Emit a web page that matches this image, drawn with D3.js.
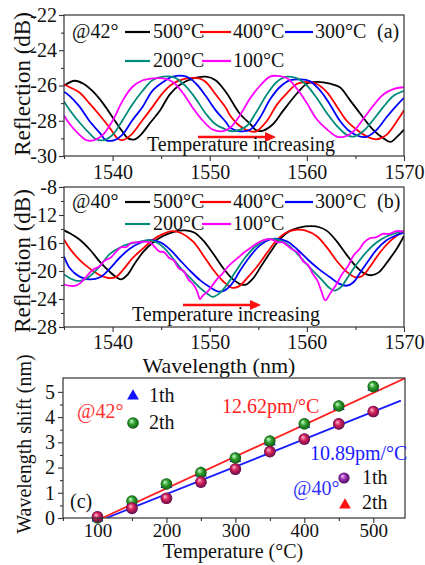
<!DOCTYPE html>
<html><head><meta charset="utf-8">
<script src="https://cdn.jsdelivr.net/npm/d3@7"></script>
<style>
body{margin:0;background:#fff}
svg{display:block}
</style>
</head><body>
<svg id="chart" width="425" height="565" font-family="Liberation Serif, Times New Roman, serif"></svg>
<script>
// ---------------- DATA ----------------
const seriesNames = ["500°C","400°C","300°C","200°C","100°C"];
const seriesColors = ["#000000","#ff0000","#0000ff","#008a7a","#ff00ff"];

// Panel (a) @42°  [wavelength nm, reflection dB]
const a500 = [[1535,-26.0],[1536.1,-25.73],[1537,-25.9],[1538,-26.35],[1539,-27.0],[1540,-27.8],[1541,-28.6],[1541.6,-29.0],[1542.3,-29.05],[1542.9,-28.8],[1543.9,-28.1],[1544.9,-27.4],[1545.9,-26.5],[1546.9,-25.97],[1548.3,-25.6],[1549.6,-25.5],[1550.6,-25.7],[1551.7,-26.4],[1552.5,-27.1],[1553.1,-27.6],[1554.2,-28.2],[1554.8,-28.55],[1555.5,-28.56],[1556.5,-28.2],[1557.6,-27.4],[1559,-26.44],[1560,-25.9],[1561,-25.8],[1562.4,-25.9],[1563.4,-26.1],[1564.4,-26.8],[1565.5,-27.6],[1566.8,-28.5],[1567.9,-29.0],[1568.6,-29.2],[1569.3,-28.9],[1570,-28.5]];
const a400 = [[1535,-25.95],[1535.6,-26.1],[1536.6,-26.4],[1537.6,-27.0],[1538.7,-27.7],[1539.7,-28.4],[1540.5,-29.0],[1541.0,-29.1],[1541.9,-28.8],[1542.9,-28.1],[1544.0,-27.3],[1545.2,-26.4],[1546.2,-25.9],[1547.6,-25.6],[1548.9,-25.6],[1549.6,-25.8],[1550.6,-26.5],[1551.7,-27.3],[1552.1,-27.7],[1553.1,-28.3],[1554.2,-28.6],[1554.8,-28.6],[1555.9,-28.0],[1556.9,-27.1],[1558,-26.4],[1559,-25.9],[1560,-25.8],[1561,-25.9],[1562.1,-26.4],[1563.1,-27.2],[1564.1,-28.0],[1565.1,-28.5],[1566.2,-28.9],[1567.2,-29.05],[1568.2,-28.8],[1569.3,-28.0],[1570,-27.4]];
const a300 = [[1535,-26.35],[1535.6,-26.6],[1536.6,-27.2],[1537.6,-28.0],[1538.7,-28.7],[1539.3,-29.1],[1540.2,-29.1],[1541,-28.8],[1542,-28.0],[1543.1,-27.2],[1544.1,-26.3],[1545.2,-25.8],[1546.2,-25.5],[1547.6,-25.5],[1548.6,-25.9],[1549.6,-26.6],[1550.6,-27.4],[1551.7,-28.1],[1552.1,-28.4],[1553.1,-28.6],[1554.2,-28.5],[1555.2,-27.8],[1556.2,-26.8],[1557.2,-26.1],[1558.3,-25.7],[1559.3,-25.65],[1560.3,-25.75],[1561.4,-26.3],[1562.4,-27.1],[1563.4,-28.0],[1564.4,-28.6],[1565.5,-28.9],[1566.2,-28.9],[1567.2,-28.5],[1568.2,-27.8],[1569.3,-27.1],[1570,-26.7]];
const a200 = [[1535,-26.9],[1535.6,-27.4],[1536.6,-28.1],[1537.6,-28.7],[1538.3,-29.05],[1539.1,-29.1],[1540,-28.8],[1541,-28.0],[1542,-27.1],[1543.1,-26.3],[1544.1,-25.7],[1545.2,-25.5],[1546.4,-25.55],[1547.4,-25.97],[1548.5,-26.7],[1549.6,-27.6],[1550.6,-28.2],[1551.7,-28.5],[1552.4,-28.6],[1553.8,-28.3],[1554.8,-27.5],[1555.9,-26.5],[1556.9,-25.8],[1558,-25.5],[1559,-25.6],[1560,-26.0],[1561,-26.7],[1562.1,-27.6],[1563.1,-28.3],[1564.1,-28.8],[1564.8,-28.9],[1565.8,-28.6],[1566.9,-27.9],[1567.9,-27.2],[1568.9,-26.6],[1570,-26.3]];
const a100 = [[1535,-27.7],[1535.6,-28.2],[1536.6,-28.8],[1537.3,-29.1],[1538.1,-29.1],[1539,-28.8],[1540,-28.0],[1541,-26.9],[1542,-26.1],[1543.1,-25.7],[1544.1,-25.6],[1545.2,-25.6],[1546.2,-25.8],[1547.2,-26.4],[1548.3,-27.3],[1549.3,-28.0],[1550.3,-28.5],[1551.3,-28.6],[1552.1,-28.4],[1553.1,-27.7],[1554.2,-26.7],[1555.2,-26.0],[1556.2,-25.5],[1556.9,-25.45],[1558,-25.6],[1559,-26.2],[1560,-27.0],[1561,-27.9],[1562.1,-28.5],[1563.1,-28.9],[1563.9,-28.9],[1564.8,-28.6],[1565.8,-27.9],[1566.9,-27.1],[1567.9,-26.5],[1568.9,-26.2],[1570,-26.1]];

// Panel (b) @40°
const b500 = [[1535,-14.2],[1535.6,-14.6],[1536.6,-15.5],[1537.7,-17.0],[1538.7,-18.7],[1539.7,-20.1],[1540.5,-21.0],[1540.9,-21.2],[1541.5,-20.6],[1542.3,-18.9],[1543.2,-17.2],[1544.2,-15.9],[1545.2,-15.0],[1546.3,-14.4],[1547.5,-14.2],[1548.4,-14.5],[1549.3,-15.6],[1550.4,-17.6],[1551.4,-19.6],[1552.4,-21.2],[1553.2,-21.9],[1553.8,-21.9],[1554.5,-21.0],[1555.3,-19.3],[1556.2,-17.4],[1557.2,-15.5],[1558.2,-14.3],[1559.2,-13.8],[1560.5,-13.6],[1561.3,-13.75],[1562.1,-14.3],[1563.1,-15.8],[1564.1,-17.7],[1565.1,-19.4],[1566.0,-20.4],[1566.7,-20.6],[1567.4,-20.2],[1568.5,-18.3],[1569.3,-16.7],[1570,-15.0]];
const b400 = [[1535,-15.5],[1535.6,-16.8],[1536.6,-18.4],[1537.7,-19.7],[1538.7,-20.6],[1539.6,-21.0],[1540.3,-20.9],[1541.1,-19.8],[1542.1,-18.1],[1543.2,-16.7],[1544.2,-15.5],[1545.2,-14.7],[1546.1,-14.3],[1547.1,-14.6],[1548.3,-15.8],[1549.3,-17.7],[1550.4,-19.9],[1551.4,-21.5],[1552.3,-22.4],[1553.0,-22.2],[1553.8,-21.1],[1554.8,-19.5],[1555.9,-17.4],[1556.9,-15.6],[1557.9,-14.5],[1559.0,-14.1],[1559.8,-14.2],[1561.0,-15.0],[1562.1,-16.7],[1563.1,-18.6],[1564.1,-20.1],[1565.0,-20.9],[1565.7,-20.7],[1566.5,-19.4],[1567.5,-17.4],[1568.6,-15.7],[1570,-14.2]];
const b300 = [[1535,-17.9],[1535.6,-19.6],[1536.6,-20.8],[1537.7,-21.2],[1538.7,-20.9],[1539.7,-19.7],[1540.8,-18.0],[1541.8,-16.8],[1542.8,-16.0],[1543.9,-15.6],[1544.9,-15.9],[1545.9,-16.9],[1546.9,-18.4],[1548.0,-20.0],[1549.0,-21.3],[1550.0,-22.3],[1550.8,-22.9],[1551.5,-22.8],[1552.3,-21.8],[1553.1,-20.0],[1554.1,-18.0],[1555.2,-16.3],[1556.2,-15.5],[1557.0,-15.4],[1558.0,-15.8],[1559.0,-16.9],[1560.2,-18.5],[1561.3,-19.8],[1562.4,-20.9],[1563.3,-21.8],[1564.1,-22.1],[1564.8,-21.6],[1565.5,-20.2],[1566.3,-18.6],[1567.2,-16.9],[1568.2,-15.6],[1569.2,-14.9],[1570,-14.5]];
const b200 = [[1535,-20.5],[1535.7,-21.1],[1536.3,-21.4],[1537.0,-21.3],[1537.7,-20.7],[1538.7,-19.3],[1539.7,-17.6],[1540.8,-16.6],[1541.8,-16.1],[1542.8,-15.8],[1543.7,-15.6],[1544.5,-15.9],[1545.3,-16.7],[1546.1,-18.0],[1547.0,-19.6],[1548.0,-21.0],[1549.0,-22.4],[1549.9,-23.4],[1550.3,-23.7],[1551.0,-23.2],[1551.8,-21.9],[1552.7,-20.0],[1553.7,-18.0],[1554.7,-16.5],[1555.7,-15.6],[1556.5,-15.4],[1557.5,-15.8],[1558.5,-16.8],[1559.5,-18.3],[1560.5,-19.8],[1561.5,-21.2],[1562.3,-22.4],[1562.8,-22.8],[1563.5,-22.3],[1564.3,-20.7],[1565.2,-18.9],[1566.2,-17.2],[1567.2,-15.9],[1568.3,-15.0],[1570,-14.3]];
const b100 = [[1535,-21.9],[1535.5,-22.1],[1536.2,-22.1],[1536.7,-21.7],[1537.3,-20.8],[1538.0,-19.8],[1538.6,-19.4],[1539.2,-18.5],[1539.8,-18.1],[1540.4,-17.2],[1540.9,-16.6],[1541.4,-16.6],[1541.9,-16.0],[1542.5,-15.9],[1543.2,-15.8],[1543.8,-15.9],[1544.3,-16.5],[1544.8,-17.2],[1545.3,-17.3],[1545.8,-18.1],[1546.3,-18.5],[1546.8,-19.6],[1547.3,-20.0],[1547.8,-21.2],[1548.3,-21.9],[1548.7,-22.9],[1549.0,-24.0],[1549.3,-23.5],[1549.8,-22.9],[1550.3,-22.0],[1550.8,-21.1],[1551.3,-20.4],[1551.8,-19.5],[1552.4,-18.7],[1553.0,-18.0],[1553.5,-17.4],[1554.0,-16.9],[1554.6,-16.3],[1555.2,-15.8],[1555.8,-15.5],[1556.4,-15.5],[1557.0,-15.9],[1557.5,-15.9],[1558.0,-16.4],[1558.6,-17.0],[1559.1,-17.4],[1559.6,-18.6],[1560.1,-19.1],[1560.6,-20.4],[1561.1,-21.4],[1561.5,-22.9],[1561.9,-24.2],[1562.4,-23.2],[1563.0,-22.0],[1563.6,-20.5],[1564.2,-19.4],[1564.8,-17.8],[1565.4,-16.9],[1565.9,-15.9],[1566.5,-15.3],[1567.1,-15.2],[1567.8,-14.7],[1568.5,-14.7],[1569.2,-14.3],[1570,-14.4]];

// Panel (c): wavelength shift vs temperature
const temperatures = [100,150,200,250,300,350,400,450,500];
const shift42_1th = [0.00,0.62,1.32,1.78,2.35,3.02,3.70,4.42,5.18];
const shift42_2th = [0.00,0.67,1.35,1.80,2.38,3.05,3.73,4.44,5.21];
const shift40_1th = [0.05,0.38,0.78,1.42,1.93,2.63,3.13,3.73,4.22];
const shift40_2th = [0.05,0.40,0.78,1.43,1.95,2.63,3.13,3.73,4.22];
const fitSlopes = [12.62, 10.89];          // pm/°C
const fitStartT = [107, 113];             // temperature where fit crosses 0
const fitEndT = [546, 540];

const xTicksAB = [1540,1550,1560,1570];
const yTicksA = [-30,-28,-26,-24,-22];
const yTicksB = [-28,-24,-20,-16,-12,-8];
const xTicksC = [100,200,300,400,500];
const yTicksC = [0,1,2,3,4,5];

// ---------------- DRAW ----------------
const FF = "Liberation Serif, Times New Roman, serif";
const svg = d3.select("#chart");
const defs = svg.append("defs");
function ball(id, c0, c1, c2){
  const g = defs.append("radialGradient").attr("id",id).attr("cx","50%").attr("cy","50%").attr("r","55%").attr("fx","35%").attr("fy","32%");
  g.append("stop").attr("offset","0%").attr("stop-color",c0);
  g.append("stop").attr("offset","45%").attr("stop-color",c1);
  g.append("stop").attr("offset","100%").attr("stop-color",c2);
}
ball("gGreen","#d6ffd6","#2ea02e","#0b4d0b");
ball("gRed","#ffc0c8","#e02050","#6a0a3a");
ball("gPurple","#f0c8ff","#9a30b0","#3e0a55");

const FONT = 20;
const axisColor = "#333";

function txt(x, y, s, size, color){
  return svg.append("text").attr("x",x).attr("y",y).attr("font-family",FF)
    .attr("font-size",size||FONT).attr("fill",color||"#111").text(s);
}

function styleAxis(g, size){
  g.attr("font-family",FF).attr("font-size",size||FONT);
  g.selectAll(".domain").remove();
  g.selectAll("line").attr("stroke",axisColor).attr("stroke-width",1.1);
  g.selectAll("text").attr("font-family",FF).attr("font-size",size||FONT).attr("fill","#111");
}

function frame(x, y){
  svg.append("rect").attr("x",x.range()[0]).attr("y",y.range()[1])
    .attr("width",x.range()[1]-x.range()[0]).attr("height",y.range()[0]-y.range()[1])
    .attr("fill","none").attr("stroke",axisColor).attr("stroke-width",1.2);
}

function clip(id, x, y){
  defs.append("clipPath").attr("id",id).append("rect")
    .attr("x",x.range()[0]).attr("y",y.range()[1])
    .attr("width",x.range()[1]-x.range()[0]).attr("height",y.range()[0]-y.range()[1]);
}

function spectrumPanel(id, x, y, curves, yTicks, yMinor, rowY, angleLabel, panelLabel, arrowY, arrowX0, arrowX1, textX, textY, xPad){
  clip(id, x, y);
  const line = d3.line().x(d=>x(d[0])).y(d=>y(d[1])).curve(d3.curveCatmullRom.alpha(0.5));
  const g = svg.append("g").attr("clip-path",`url(#${id})`);
  curves.forEach((c,i)=>{
    g.append("path").datum(c).attr("d",line).attr("fill","none")
      .attr("stroke",seriesColors[i]).attr("stroke-width",1.8).attr("stroke-linejoin","round");
  });
  const yb = y.range()[0], xl = x.range()[0];
  const ax = svg.append("g").attr("transform",`translate(0,${yb})`)
    .call(d3.axisBottom(x).tickValues(xTicksAB).tickSize(5).tickPadding(xPad).tickFormat(d=>String(d)));
  styleAxis(ax);
  const axm = svg.append("g").attr("transform",`translate(0,${yb})`)
    .call(d3.axisBottom(x).tickValues([1535,1545,1555,1565]).tickSize(3).tickFormat(""));
  styleAxis(axm);
  const ay = svg.append("g").attr("transform",`translate(${xl},0)`)
    .call(d3.axisLeft(y).tickValues(yTicks).tickSize(5).tickPadding(2).tickFormat(d=>String(d)));
  styleAxis(ay);
  const aym = svg.append("g").attr("transform",`translate(${xl},0)`)
    .call(d3.axisLeft(y).tickValues(yMinor).tickSize(3).tickFormat(""));
  styleAxis(aym);
  frame(x,y);
  const items = [
    {i:0,x0:125,x1:150,tx:153,r:0},{i:1,x0:200,x1:231,tx:233,r:0},{i:2,x0:285,x1:313,tx:315,r:0},
    {i:3,x0:125,x1:150,tx:153,r:1},{i:4,x0:202,x1:231,tx:233,r:1}
  ];
  txt(72, rowY[0], angleLabel);
  items.forEach(it=>{
    const by = rowY[it.r];
    svg.append("line").attr("x1",it.x0).attr("x2",it.x1).attr("y1",by-6).attr("y2",by-6)
      .attr("stroke",seriesColors[it.i]).attr("stroke-width",2.2);
    txt(it.tx, by, seriesNames[it.i]);
  });
  txt(377, rowY[0], panelLabel);
  svg.append("line").attr("x1",arrowX0).attr("x2",arrowX1-9).attr("y1",arrowY).attr("y2",arrowY)
    .attr("stroke","#ff1010").attr("stroke-width",2.4);
  svg.append("path").attr("d",`M${arrowX1},${arrowY} L${arrowX1-11},${arrowY-5} L${arrowX1-11},${arrowY+5} Z`).attr("fill","#ff1010");
  txt(textX, textY, "Temperature increasing");
}

// Panel (a)
const xA = d3.scaleLinear().domain([1535,1570]).range([64,404]);
const yA = d3.scaleLinear().domain([-30,-22]).range([156,15]);
spectrumPanel("clipA", xA, yA, [a500,a400,a300,a200,a100], yTicksA, [-29,-27,-25,-23], [38,67], "@42°", "(a)", 137, 198, 276, 147, 151, 4);

// Panel (b)
const yB = d3.scaleLinear().domain([-28,-8]).range([327,187]);
spectrumPanel("clipB", xA, yB, [b500,b400,b300,b200,b100], yTicksB, [-26,-22,-18,-14,-10], [208,230], "@40°", "(b)", 305, 183, 261, 132, 321, 3);

// Axis titles (a), (b)
function vtitle(cx, cy, s, size){
  svg.append("text").attr("transform",`translate(${cx},${cy}) rotate(-90)`).attr("text-anchor","middle")
    .attr("font-family",FF).attr("font-size",size).attr("fill","#111").text(s);
}
vtitle(30, 84, "Reflection (dB)", 23);
vtitle(30, 261, "Reflection (dB)", 23);
txt(219, 373, "Wavelength (nm)", 22).attr("text-anchor","middle");

// Panel (c)
const xC = d3.scaleLinear().domain([50,546]).range([63,405]);
const yC = d3.scaleLinear().domain([0,5.55]).range([518,378]);
clip("clipC", xC, yC);
const gc = svg.append("g").attr("clip-path","url(#clipC)");
const fitColors = ["#ff2020","#1a1aff"];
fitSlopes.forEach((s,i)=>{
  const pts = [[fitStartT[i],0],[fitEndT[i], s/1000*(fitEndT[i]-fitStartT[i])]];
  gc.append("path").datum(pts).attr("d",d3.line().x(d=>xC(d[0])).y(d=>yC(d[1])))
    .attr("stroke",fitColors[i]).attr("stroke-width",1.8).attr("fill","none");
});
const tri = d3.symbol().type(d3.symbolTriangle).size(60);
const pts42_1 = temperatures.map((t,i)=>[t,shift42_1th[i]]);
const pts42_2 = temperatures.map((t,i)=>[t,shift42_2th[i]]);
const pts40_1 = temperatures.map((t,i)=>[t,shift40_1th[i]]);
const pts40_2 = temperatures.map((t,i)=>[t,shift40_2th[i]]);
const gm = svg.append("g");
gm.selectAll(".t42").data(pts42_1).join("path").attr("d",tri).attr("fill","#1010ff")
  .attr("transform",d=>`translate(${xC(d[0])},${yC(d[1])})`);
gm.selectAll(".b42").data(pts42_2).join("circle").attr("cx",d=>xC(d[0])).attr("cy",d=>yC(d[1])).attr("r",5.8).attr("fill","url(#gGreen)");
gm.selectAll(".b40").data(pts40_1).join("circle").attr("cx",d=>xC(d[0])).attr("cy",d=>yC(d[1])).attr("r",5.8).attr("fill","url(#gPurple)");
gm.selectAll(".t40").data(pts40_2).join("circle").attr("cx",d=>xC(d[0])).attr("cy",d=>yC(d[1])).attr("r",5.6).attr("fill","url(#gRed)").attr("opacity",0.85);

const axc = svg.append("g").attr("transform","translate(0,518)")
  .call(d3.axisBottom(xC).tickValues(xTicksC).tickSize(5).tickPadding(1).tickFormat(d=>String(d)));
styleAxis(axc, 19);
const axcm = svg.append("g").attr("transform","translate(0,518)")
  .call(d3.axisBottom(xC).tickValues([50,150,250,350,450]).tickSize(3).tickFormat(""));
styleAxis(axcm);
const ayc = svg.append("g").attr("transform","translate(63,0)")
  .call(d3.axisLeft(yC).tickValues(yTicksC).tickSize(5).tickPadding(3).tickFormat(d=>String(d)));
styleAxis(ayc);
const aycm = svg.append("g").attr("transform","translate(63,0)")
  .call(d3.axisLeft(yC).tickValues([0.5,1.5,2.5,3.5,4.5]).tickSize(3).tickFormat(""));
styleAxis(aycm);
frame(xC,yC);

// Panel (c) annotations
txt(77, 418, "@42°", FONT, "#ff3030");
svg.append("path").attr("d",tri).attr("fill","#1010ff").attr("transform","translate(133,396)");
txt(149, 402, "1th");
svg.append("circle").attr("cx",133).attr("cy",423).attr("r",5.8).attr("fill","url(#gGreen)");
txt(149, 429, "2th");
txt(222, 413, "12.62pm/°C", FONT, "#ff2020");
txt(310, 460, "10.89pm/°C", FONT, "#1a1aff");
txt(293, 495, "@40°", FONT, "#3030ff");
svg.append("circle").attr("cx",344).attr("cy",478).attr("r",5.6).attr("fill","url(#gPurple)");
txt(362, 484, "1th");
svg.append("path").attr("d",tri).attr("fill","#ff1010").attr("transform","translate(345,505)");
txt(362, 509, "2th");
txt(70, 508, "(c)");

vtitle(31, 444, "Wavelength shift (nm)", 20);
txt(233, 558, "Temperature (°C)", 20).attr("text-anchor","middle");
</script>
</body></html>
